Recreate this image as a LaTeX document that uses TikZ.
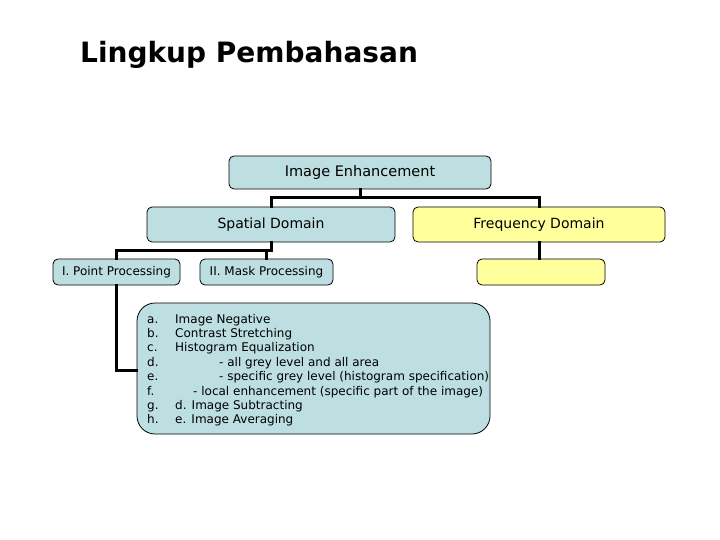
\documentclass[tikz,border=0pt]{standalone}
\usepackage{fontspec}
\setmainfont{DejaVu Sans}
\usepackage{xcolor}
\usepackage{tikz}
\usetikzlibrary{positioning}

\definecolor{boxblue}{HTML}{BDDFE2}
\definecolor{boxyellow}{HTML}{FFFF9C}

\tikzset{
  bluebox/.style={draw=black, line width=0.8pt, fill=boxblue, rounded corners=5pt, inner sep=0pt},
  yellowbox/.style={draw=black, line width=0.8pt, fill=boxyellow, rounded corners=5pt, inner sep=0pt},
  link/.style={line width=3pt, line cap=rect},
  item/.style={anchor=base west, inner sep=0pt, font=\fontsize{12}{14}\selectfont},
}

\begin{document}
\begin{tikzpicture}[x=1pt,y=-1pt]

\useasboundingbox (0,0) rectangle (720,540);

\node[anchor=base west, inner sep=0pt, font=\fontsize{28}{32}\selectfont\bfseries] (title) at (80,63) {Lingkup Pembahasan};

\node[bluebox, minimum width=262pt, minimum height=33pt, font=\fontsize{14.5}{17}\selectfont] (enh) at (360,172.5) {Image Enhancement};
\node[bluebox, minimum width=248pt, minimum height=35pt, font=\fontsize{14}{17}\selectfont] (spatial) at (271,224.5) {Spatial Domain};
\node[yellowbox, minimum width=252pt, minimum height=35pt, font=\fontsize{14}{17}\selectfont] (freq) at (539,224.5) {Frequency Domain};

\node[bluebox, minimum width=127pt, minimum height=26pt, font=\fontsize{12}{14}\selectfont] (point) at (116.5,272) {I. Point Processing};
\node[bluebox, minimum width=133pt, minimum height=26pt, font=\fontsize{12}{14}\selectfont] (mask) at (266.5,272) {II. Mask Processing};
\node[yellowbox, minimum width=128pt, minimum height=26pt] (freqsub) at (541,272) {};

\node[bluebox, rounded corners=18pt, minimum width=353pt, minimum height=131pt] (list) at (313.5,368.5) {};

% list items
\node[item] (la) at (147,323) {a.};
\node[item] (lb) at (147,337.4) {b.};
\node[item] (lc) at (147,351.8) {c.};
\node[item] (ld) at (147,366.2) {d.};
\node[item] (le) at (147,380.6) {e.};
\node[item] (lf) at (147,395) {f.};
\node[item] (lg) at (147,409.4) {g.};
\node[item] (lh) at (147,423.8) {h.};

\node[item] (ta) at (175,323) {Image Negative};
\node[item] (tb) at (175,337.4) {Contrast Stretching};
\node[item] (tc) at (175,351.8) {Histogram Equalization};
\node[item] (td) at (219,366.2) {- all grey level and all area};
\node[item] (te) at (219,380.6) {- specific grey level (histogram specification)};
\node[item] (tf) at (193,395) {- local enhancement (specific part of the image)};
\node[item] (tg) at (175,409.4) {d. Image Subtracting};
\node[item] (th) at (175,423.8) {e. Image Averaging};

% connectors
\coordinate (j1) at (360,198);
\coordinate (j2) at (271,250);
\draw[link] (enh.south) -- (j1) -| (spatial.north);
\draw[link] (j1) -| (freq.north);
\draw[link] (spatial.south) -- (j2) -| (point.north);
\draw[link] (j2) -- (j2 -| mask.north) -- (mask.north);
\draw[link] (freq.south) -- (freq.south |- freqsub.north);
\draw[link] (point.south) |- (list.west |- 0,370);

\end{tikzpicture}
\end{document}
